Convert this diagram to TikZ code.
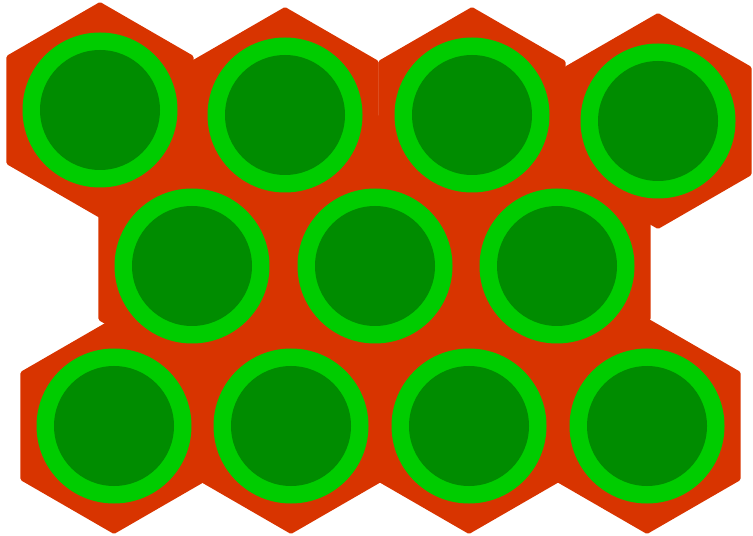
\documentclass[tikz,border=0pt]{standalone}
\usepackage{xcolor}
\usepackage{tikz}
\definecolor{RojoCelda}{RGB}{216,52,0}
\definecolor{VerdeAnillo}{RGB}{0,204,0}
\definecolor{VerdeNucleo}{RGB}{0,140,0}

\begin{document}
\begin{tikzpicture}[x=0.02cm,y=-0.02cm]
  \useasboundingbox (0,0) rectangle (753,536);
  % centros de las celdas
  \coordinate (A1) at (100,110);
  \coordinate (A2) at (285,115);
  \coordinate (A3) at (472,115);
  \coordinate (A4) at (658,121);
  \coordinate (B1) at (192,266);
  \coordinate (B2) at (375,266);
  \coordinate (B3) at (557,266);
  \coordinate (C1) at (114,426);
  \coordinate (C2) at (291,426);
  \coordinate (C3) at (469,426);
  \coordinate (C4) at (647,426);
  % relleno interior y hexagonos
  \fill[RojoCelda] (A1) -- (A4) -- (B3) -- (C4) -- (C1) -- (B1) -- cycle;
  \foreach \P in {A1,A2,A3,A4,B1,B2,B3,C1,C2,C3,C4}
    \filldraw[RojoCelda,line width=3pt,line join=round] (\P) +(30:105) -- +(90:105) -- +(150:105)
      -- +(210:105) -- +(270:105) -- +(330:105) -- cycle;
  % circulos
  \foreach \P in {A1,A2,A3,A4,B1,B2,B3,C1,C2,C3,C4} {
    \fill[VerdeAnillo] (\P) circle (77.5);
    \fill[VerdeNucleo] (\P) circle (60);
  }
\end{tikzpicture}
\end{document}
